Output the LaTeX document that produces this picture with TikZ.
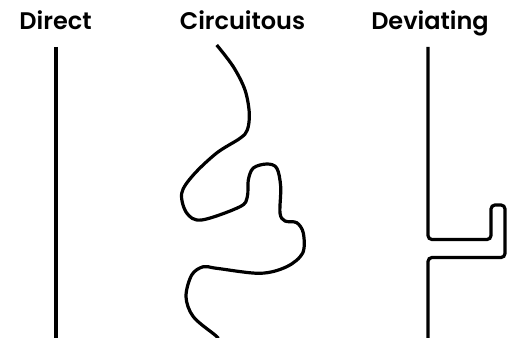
\documentclass[tikz,border=0pt]{standalone}
\usepackage{fontspec}
\newfontfamily\titlefont{Poppins SemiBold}
\begin{document}
\begin{tikzpicture}[x=1pt,y=-1pt,
  path/.style={line width=3.2pt,black},
  title/.style={font=\titlefont\fontsize{24}{28}\selectfont,anchor=base}]
\useasboundingbox (0,0) rectangle (508,337);
\node[title] (t1) at (55.5,29.3) {Direct};
\node[title] (t2) at (242.5,29.3) {Circuitous};
\node[title] (t3) at (430,29.3) {Deviating};
% direct
\coordinate (d1) at (56,47);
\coordinate (d2) at (56,340);
\draw[path] (d1) -- (d2);
% circuitous
\draw[path] plot[smooth,tension=0.55] coordinates {
 (216.7,45) (233.3,66.7) (245,90) (249.3,113.3) (247.3,130) (240,138.3)
 (216.7,153) (193.3,175) (181.7,193.3) (186.7,213) (201.7,220) (240,206.7)
 (247.3,196.7) (248.3,180) (253.3,168) (266.7,164) (276.7,168) (280.7,186.7)
 (280,213) (285,221) (296.7,222.7) (303.3,233) (302.7,253) (286.7,266.7)
 (260,273.3) (216.7,268.3) (203.3,266.7) (191.7,275) (186,296.7) (193.3,316.7)
 (215,335) (218,338)};
% deviating
\coordinate (v1) at (428,47);
\coordinate (v2) at (428,340);
\draw[path,rounded corners=4pt] (v1) |- (491,239.5) |- (505,205) |- (428,257.5) -- (v2);
\end{tikzpicture}
\end{document}
